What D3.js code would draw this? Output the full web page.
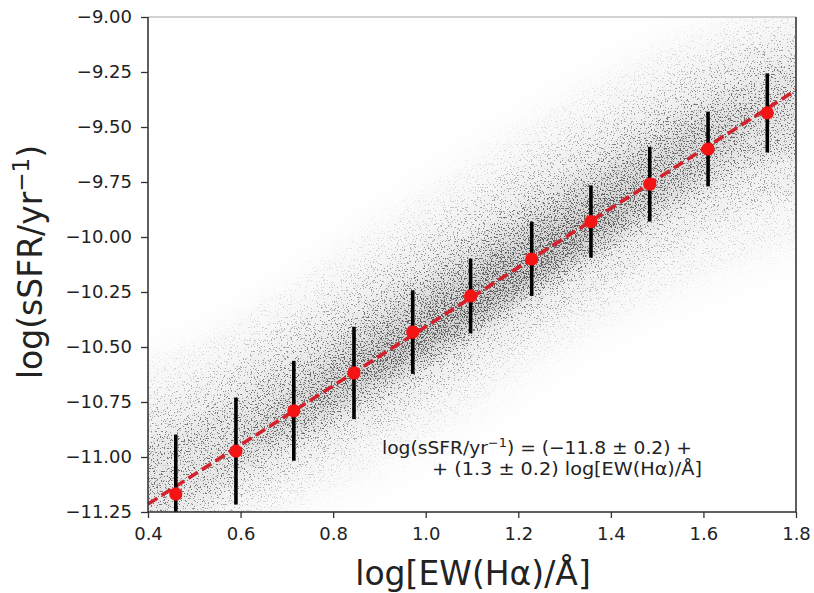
<!DOCTYPE html>
<html><head><meta charset="utf-8">
<script src="https://cdn.jsdelivr.net/npm/d3@7"></script>
<style>body{margin:0;background:#fff}svg{display:block}text{font-family:"DejaVu Sans",sans-serif;fill:#222}</style>
</head><body><svg id="c" width="814" height="593"></svg>
<script>
// ---- data ----
const binX   = [0.46, 0.59, 0.715, 0.845, 0.972, 1.097, 1.229, 1.357, 1.484, 1.61, 1.738];
const binY   = [-11.168, -10.973, -10.79, -10.618, -10.432, -10.268, -10.10, -9.93, -9.76, -9.60, -9.436];
const binErr = [0.27, 0.243, 0.227, 0.21, 0.19, 0.17, 0.168, 0.164, 0.17, 0.17, 0.18];
const fitX = [0.4, 1.8];
const fitY = [-11.214, -9.332];
const xTicks = [0.4, 0.6, 0.8, 1.0, 1.2, 1.4, 1.6, 1.8];
const yTicks = [-9.00, -9.25, -9.50, -9.75, -10.00, -10.25, -10.50, -10.75, -11.00, -11.25];
// density envelope of the background point cloud (upper / lower edges per density level)
const cloudX = [0.4, 0.5, 0.6, 0.7, 0.8, 0.9, 1.0, 1.1, 1.2, 1.3, 1.4, 1.5, 1.6, 1.7, 1.8];
const lvl0Top = [-10.5, -10.4, -10.28, -10.13, -9.98, -9.83, -9.68, -9.54, -9.41, -9.28, -9.16, -9.05, -8.97, -8.9, -8.85];
const lvl0Bot = [-11.6, -11.5, -11.4, -11.32, -11.25, -11.17, -11.06, -10.92, -10.77, -10.62, -10.49, -10.39, -10.31, -10.22, -10.13];
const lvl1Top = [-10.6, -10.5, -10.38, -10.25, -10.1, -9.96, -9.81, -9.67, -9.53, -9.4, -9.28, -9.17, -9.07, -8.99, -8.93];
const lvl1Bot = [-11.5, -11.42, -11.33, -11.23, -11.13, -11.02, -10.9, -10.76, -10.61, -10.48, -10.36, -10.26, -10.17, -10.08, -10.0];
const lvl2Top = [-10.78, -10.66, -10.53, -10.39, -10.25, -10.11, -9.97, -9.83, -9.69, -9.56, -9.44, -9.32, -9.21, -9.12, -9.05];
const lvl2Bot = [-11.4, -11.31, -11.21, -11.1, -10.99, -10.88, -10.76, -10.62, -10.48, -10.35, -10.22, -10.1, -9.98, -9.88, -9.8];
const lvl3Top = [-10.97, -10.84, -10.7, -10.56, -10.42, -10.28, -10.14, -10.0, -9.86, -9.73, -9.6, -9.48, -9.37, -9.27, -9.19];
const lvl3Bot = [-11.3, -11.2, -11.08, -10.96, -10.85, -10.73, -10.6, -10.46, -10.32, -10.18, -10.05, -9.92, -9.8, -9.68, -9.58];
const lvl4Top = [-11.21, -11.08, -10.9, -10.72, -10.54, -10.38, -10.23, -10.09, -9.95, -9.82, -9.69, -9.57, -9.47, -9.42, -9.33];
const lvl4Bot = [-11.21, -11.08, -10.98, -10.9, -10.8, -10.68, -10.56, -10.42, -10.28, -10.15, -10.02, -9.87, -9.72, -9.52, -9.33];
const lvl5Top = [-11.21, -11.08, -10.94, -10.81, -10.66, -10.5, -10.35, -10.2, -10.06, -9.93, -9.83, -9.73, -9.6, -9.47, -9.33];
const lvl5Bot = [-11.21, -11.08, -10.94, -10.81, -10.7, -10.62, -10.52, -10.4, -10.27, -10.12, -9.95, -9.75, -9.6, -9.47, -9.33];
const levelOpacity = [0.03, 0.05, 0.09, 0.13, 0.17, 0.22];

// ---- drawing ----
const svg = d3.select("#c");
const L = 148, R = 796, T = 17, B = 512;
const x = d3.scaleLinear().domain([0.4, 1.8]).range([L, R]);
const y = d3.scaleLinear().domain([-11.25, -9.0]).range([B, T]);

const defs = svg.append("defs");
defs.append("clipPath").attr("id", "plot").append("rect")
  .attr("x", L).attr("y", T).attr("width", R - L).attr("height", B - T);
const f = defs.append("filter").attr("id", "grain").attr("filterUnits", "userSpaceOnUse")
  .attr("x", 60).attr("y", -60).attr("width", 820).attr("height", 680)
  .attr("color-interpolation-filters", "sRGB");
f.append("feGaussianBlur").attr("in", "SourceAlpha").attr("stdDeviation", 9).attr("result", "dens");
f.append("feTurbulence").attr("type", "fractalNoise").attr("baseFrequency", 0.7)
  .attr("numOctaves", 2).attr("seed", 7).attr("result", "turb");
f.append("feColorMatrix").attr("in", "turb").attr("type", "matrix")
  .attr("values", "0 0 0 0 0  0 0 0 0 0  0 0 0 0 0  2.8 0 0 0 -0.9").attr("result", "nz");
f.append("feComposite").attr("in", "dens").attr("in2", "nz").attr("operator", "arithmetic")
  .attr("k1", 0).attr("k2", 5).attr("k3", -5).attr("k4", -0.1).attr("result", "th");
f.append("feComposite").attr("in", "th").attr("in2", "dens").attr("operator", "arithmetic")
  .attr("k1", 0).attr("k2", 0.6).attr("k3", 0.45).attr("k4", 0).attr("result", "mix");
f.append("feColorMatrix").attr("in", "mix").attr("type", "matrix")
  .attr("values", "0 0 0 0 0.2  0 0 0 0 0.2  0 0 0 0 0.2  0 0 0 0.95 0").attr("result", "col");
f.append("feGaussianBlur").attr("in", "col").attr("stdDeviation", 0.5);

const levels = [[lvl0Top, lvl0Bot], [lvl1Top, lvl1Bot], [lvl2Top, lvl2Bot],
                [lvl3Top, lvl3Bot], [lvl4Top, lvl4Bot], [lvl5Top, lvl5Bot]];
const last = cloudX.length - 1;
const ext = i => (i === 0 ? -40 : i === last ? 40 : 0);
const cloud = svg.append("g").attr("clip-path", "url(#plot)")
  .append("g").attr("filter", "url(#grain)");
levels.forEach((lv, k) => {
  const area = d3.area()
    .x((d, i) => x(d) + ext(i))
    .y0((d, i) => y(lv[1][i]))
    .y1((d, i) => y(lv[0][i]))
    .curve(d3.curveMonotoneX);
  cloud.append("path").datum(cloudX).attr("d", area)
    .attr("fill", "#000").attr("fill-opacity", levelOpacity[k]);
});

const marks = svg.append("g").attr("clip-path", "url(#plot)");
// dashed fit line
marks.append("path").datum(fitX)
  .attr("d", d3.line().x(d => x(d)).y((d, i) => y(fitY[i])))
  .attr("fill", "none").attr("stroke", "#d3222e").attr("stroke-width", 3.6)
  .attr("stroke-dasharray", "11 5");
// error bars
marks.selectAll("line.err").data(binX).join("line").attr("class", "err")
  .attr("x1", d => x(d)).attr("x2", d => x(d))
  .attr("y1", (d, i) => y(binY[i] + binErr[i])).attr("y2", (d, i) => y(binY[i] - binErr[i]))
  .attr("stroke", "#000").attr("stroke-width", 3.6);
// markers
marks.selectAll("circle").data(binX).join("circle")
  .attr("cx", d => x(d)).attr("cy", (d, i) => y(binY[i])).attr("r", 6.6)
  .attr("fill", "#f41414");

// spines
svg.append("line").attr("x1", L).attr("x2", R).attr("y1", T).attr("y2", T)
  .attr("stroke", "#d2d2d2").attr("stroke-width", 2);
svg.append("line").attr("x1", R).attr("x2", R).attr("y1", T).attr("y2", B)
  .attr("stroke", "#2a2a2a").attr("stroke-width", 1.5);
svg.append("line").attr("x1", L).attr("x2", L).attr("y1", T).attr("y2", B)
  .attr("stroke", "#2a2a2a").attr("stroke-width", 1.5);
svg.append("line").attr("x1", L).attr("x2", R).attr("y1", B).attr("y2", B)
  .attr("stroke", "#2a2a2a").attr("stroke-width", 1.5);

// axes
const fmtY = d => d3.format(".2f")(d);
const fmtX = d => d3.format(".1f")(d);
const ay = svg.append("g").attr("transform", `translate(${L},0)`)
  .call(d3.axisLeft(y).tickValues(yTicks).tickFormat(fmtY).tickSize(7).tickPadding(9));
const ax = svg.append("g").attr("transform", `translate(0,${B})`)
  .call(d3.axisBottom(x).tickValues(xTicks).tickFormat(fmtX).tickSize(6).tickPadding(9));
[ax, ay].forEach(g => {
  g.select(".domain").remove();
  g.selectAll(".tick line").attr("stroke", "#333").attr("stroke-width", 1.3);
  g.selectAll(".tick text").style("font-size", "18px").style("font-family", "DejaVu Sans")
    .attr("fill", "#222");
});

// axis labels
svg.append("text").attr("x", 473).attr("y", 585).attr("text-anchor", "middle")
  .style("font-size", "33px").text("log[EW(Hα)/Å]");
const yl = svg.append("text").attr("transform", "translate(42,262) rotate(-90)")
  .attr("text-anchor", "middle").style("font-size", "33px");
yl.append("tspan").text("log(sSFR/yr");
yl.append("tspan").attr("dy", -13).style("font-size", "23px").text("−1");
yl.append("tspan").attr("dy", 13).text(")");

// annotation
const a1 = svg.append("text").attr("x", 382).attr("y", 454).style("font-size", "18px")
  .attr("textLength", 310).attr("lengthAdjust", "spacingAndGlyphs");
a1.append("tspan").text("log(sSFR/yr");
a1.append("tspan").attr("dy", -7).style("font-size", "12.5px").text("−1");
a1.append("tspan").attr("dy", 7).text(") = (−11.8 ± 0.2) +");
svg.append("text").attr("x", 432).attr("y", 475).style("font-size", "18px")
  .attr("textLength", 270).attr("lengthAdjust", "spacingAndGlyphs")
  .text("+ (1.3 ± 0.2) log[EW(Hα)/Å]");
</script></body></html>
